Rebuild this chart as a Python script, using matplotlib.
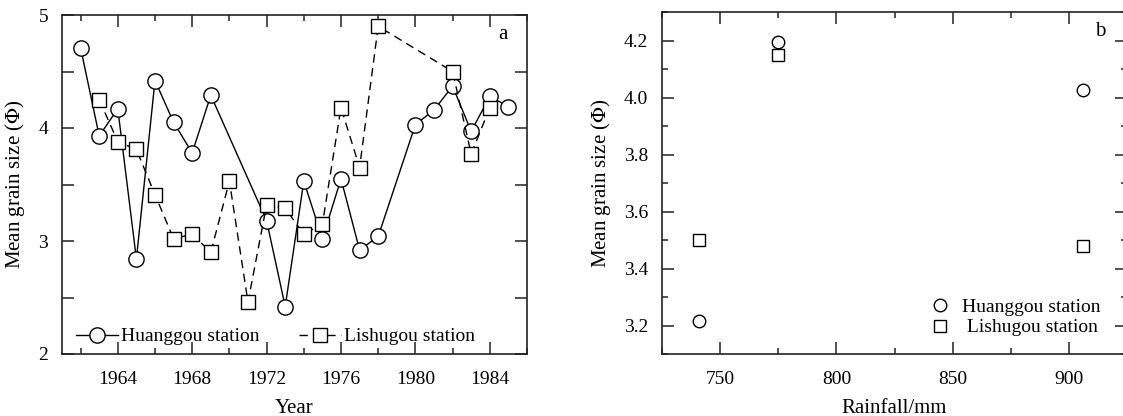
import matplotlib.pyplot as plt
from matplotlib.ticker import MultipleLocator, FuncFormatter

plt.rcParams['font.family'] = ['Liberation Serif', 'DejaVu Serif']
plt.rcParams['mathtext.fontset'] = 'stix'

# panel a: mean grain size by year
hg_years = [1962, 1963, 1964, 1965, 1966, 1967, 1968, 1969, 1972, 1973, 1974,
            1975, 1976, 1977, 1978, 1980, 1981, 1982, 1983, 1984, 1985]
hg_size = [4.71, 3.93, 4.17, 2.84, 4.42, 4.05, 3.78, 4.29, 3.18, 2.42, 3.53,
           3.02, 3.55, 2.92, 3.04, 4.03, 4.16, 4.37, 3.97, 4.28, 4.19]

ls_years = [1963, 1964, 1965, 1966, 1967, 1968, 1969, 1970, 1971, 1972, 1973,
            1974, 1975, 1976, 1977, 1978, 1982, 1983, 1984]
ls_size = [4.25, 3.88, 3.81, 3.41, 3.02, 3.06, 2.90, 3.53, 2.46, 3.32, 3.29,
           3.06, 3.15, 4.18, 3.65, 4.90, 4.50, 3.77, 4.18]

# panel b: mean grain size vs rainfall
rain = [741, 775, 906]
hg_rain_size = [3.215, 4.195, 4.025]
ls_rain_size = [3.50, 4.15, 3.48]

W, H = 1123, 416
fig = plt.figure(figsize=(W / 100, H / 100), dpi=100)

def px_axes(left, top, right, bottom):
    return fig.add_axes([left / W, 1 - bottom / H, (right - left) / W, (bottom - top) / H])

ax1 = px_axes(62, 15, 527, 354)
ax2 = px_axes(662, 12, 1127, 354)

edge = '#222222'
fs_tick = 14
fs_lab = 15
for ax in (ax1, ax2):
    for s in ax.spines.values():
        s.set_linewidth(1.2)
        s.set_color(edge)
    ax.tick_params(which='both', direction='in', top=True, right=True,
                   labelsize=fs_tick, color=edge, width=1.1)
    ax.tick_params(axis='x', which='both', pad=12)
    ax.tick_params(axis='y', which='both', pad=10)
    ax.tick_params(which='major', length=8.5)
    ax.tick_params(which='minor', length=4.5)

# ---- a ----
ax1.plot(hg_years, hg_size, '-', color='black', lw=1.0, marker='o', ms=11,
         mfc='white', mec='black', mew=1.0, label='Huanggou station')
ax1.plot(ls_years, ls_size, color='black', lw=1.0, ls=(0, (6, 4)), marker='s', ms=10,
         mfc='white', mec='black', mew=1.0, label='Lishugou station')
ax1.set_xlim(1961, 1986)
ax1.set_ylim(2, 5)
ax1.xaxis.set_major_locator(MultipleLocator(4))
ax1.xaxis.set_minor_locator(MultipleLocator(2))
ax1.yaxis.set_major_locator(MultipleLocator(0.5))
ax1.yaxis.set_major_formatter(FuncFormatter(lambda v, p: f'{v:.0f}' if abs(v - round(v)) < 1e-6 else ''))
ax1.set_xlabel('Year', fontsize=fs_lab, labelpad=8)
ax1.set_ylabel('Mean grain size ($\\Phi$)', fontsize=fs_lab, labelpad=8)
ax1.text(0.948, 0.943, 'a', transform=ax1.transAxes, fontsize=15, ha='center', va='center')
ax1.legend(loc='lower left', bbox_to_anchor=(0.0, -0.015), ncol=2, frameon=False, fontsize=fs_tick,
           numpoints=1, handlelength=2.2, handletextpad=0.15, columnspacing=2.0,
           borderaxespad=0.3)

# ---- b ----
ax2.plot(rain, hg_rain_size, 'o', ms=9, mfc='white', mec='black', mew=1.0,
         label='Huanggou station', clip_on=False)
ax2.plot(rain, ls_rain_size, 's', ms=8, mfc='white', mec='black', mew=1.0,
         label=' Lishugou station', clip_on=False)
ax2.set_xlim(725, 925)
ax2.set_ylim(3.1, 4.3)
ax2.xaxis.set_major_locator(MultipleLocator(50))
ax2.xaxis.set_minor_locator(MultipleLocator(25))
ax2.yaxis.set_major_locator(MultipleLocator(0.2))
ax2.yaxis.set_minor_locator(MultipleLocator(0.1))
ax2.yaxis.set_major_formatter(FuncFormatter(lambda v, p: f'{v:.1f}'))
ax2.set_xlabel('Rainfall/mm', fontsize=fs_lab, labelpad=8)
ax2.set_ylabel('Mean grain size ($\\Phi$)', fontsize=fs_lab, labelpad=8)
ax2.text(0.942, 0.943, 'b', transform=ax2.transAxes, fontsize=15, ha='center', va='center')
ax2.legend(loc='lower left', bbox_to_anchor=(0.54, 0.0), frameon=False, fontsize=fs_tick,
           numpoints=1, handlelength=1.0, handletextpad=0.6, labelspacing=0.15)

fig.savefig('out.png', dpi=100)
